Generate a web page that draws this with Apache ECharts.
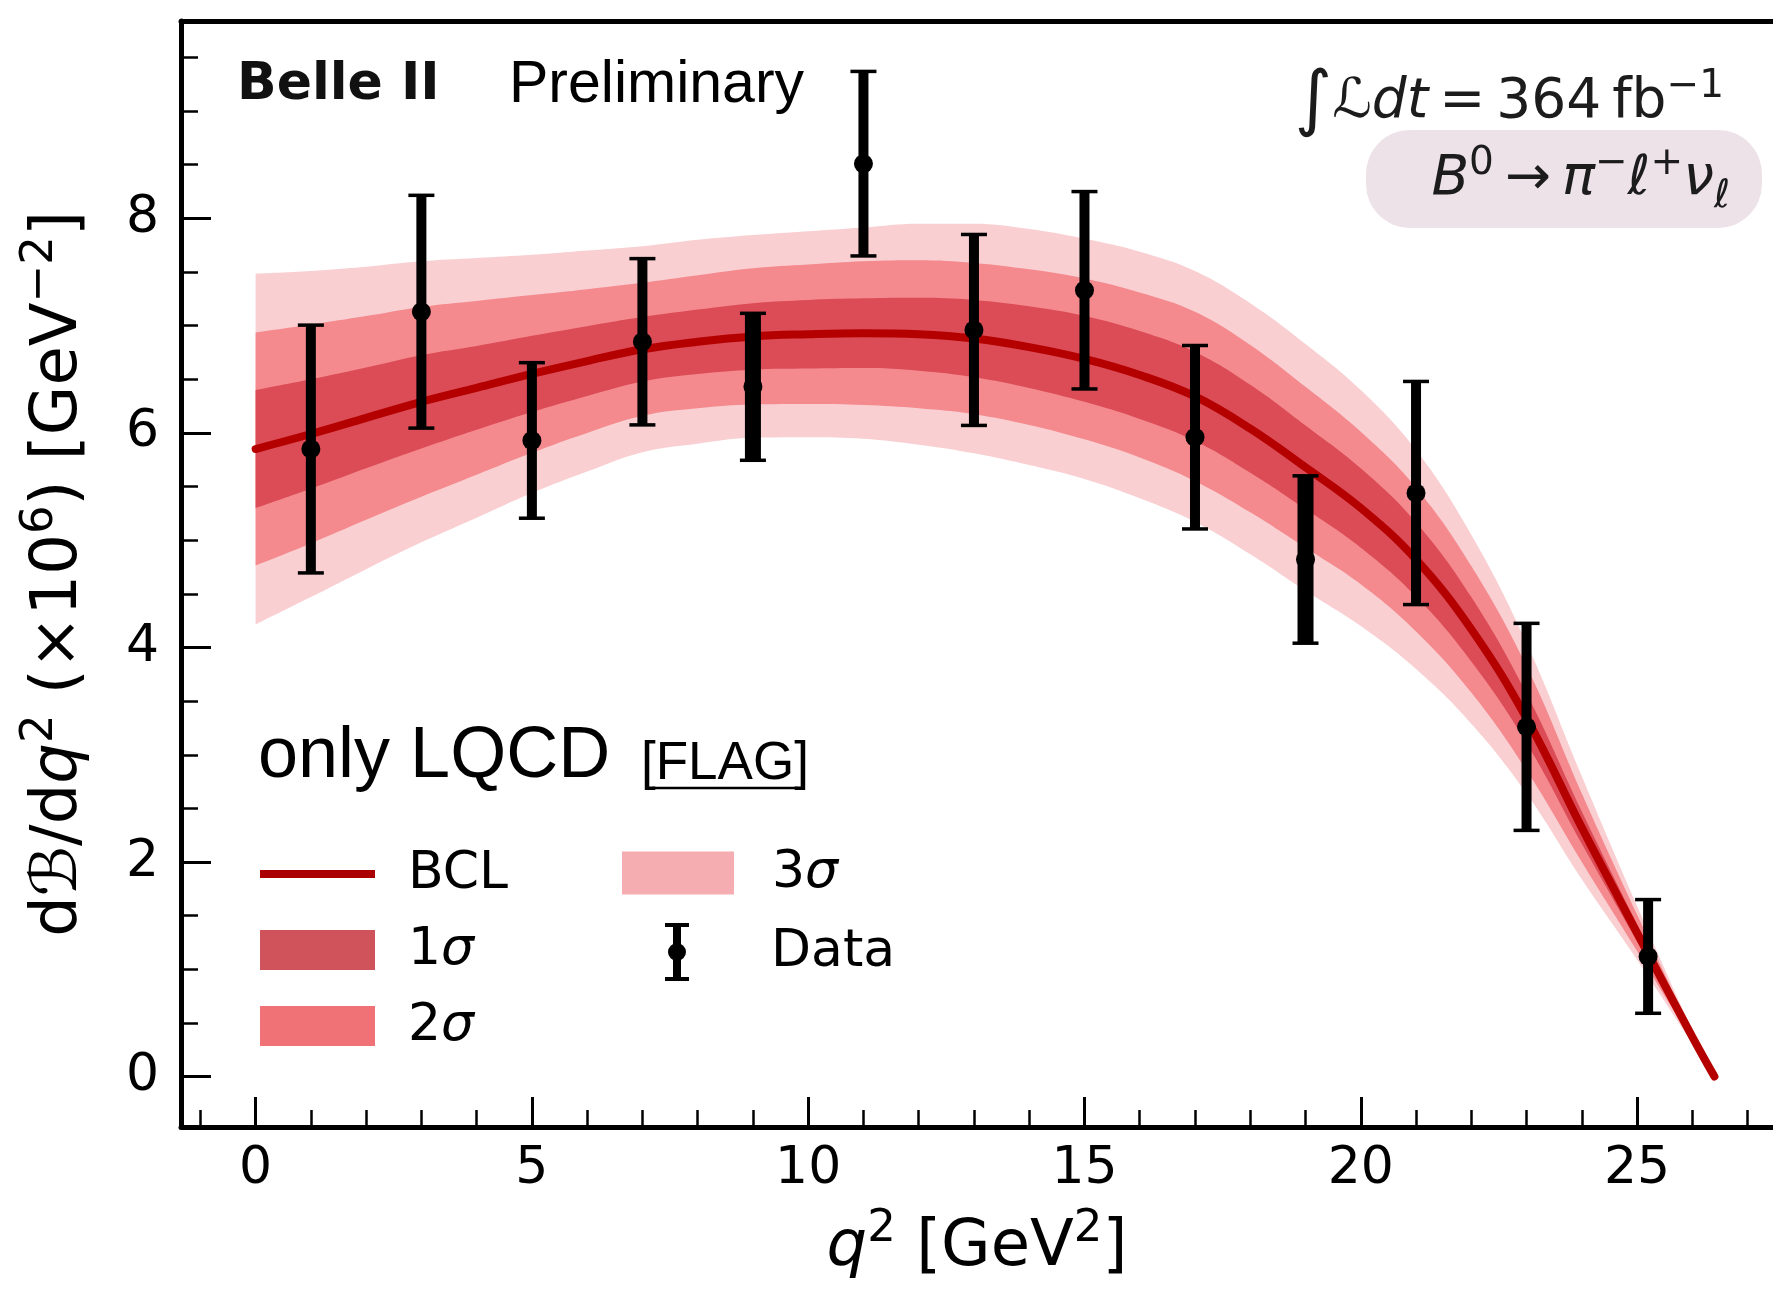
<!DOCTYPE html>
<html>
<head>
<meta charset="utf-8">
<title>dB/dq2 for B0 -> pi- l+ nu</title>
<script src="https://cdn.jsdelivr.net/npm/echarts@6.0.0/dist/echarts.min.js"></script>
<style>
  html, body { margin: 0; padding: 0; background: #ffffff; }
  #chart { width: 1773px; height: 1289px; }
</style>
</head>
<body>
<div id="chart"></div>
<script>
// BCL fit (only LQCD input), sampled along q^2 [GeV^2]
var fitQ2      = [0, 1, 2, 3, 4, 5, 6, 7, 8, 9, 10, 11, 12, 13, 14, 15, 16, 17, 18, 19, 20, 21, 22, 23, 24, 25, 26, 26.4];
var fitCentral = [5.85, 5.99, 6.14, 6.29, 6.42, 6.55, 6.67, 6.78, 6.85, 6.90, 6.92, 6.93, 6.92, 6.88, 6.80, 6.69, 6.54, 6.34, 6.04, 5.68, 5.30, 4.82, 4.17, 3.34, 2.32, 1.34, 0.37, 0];
// half widths of the 1, 2 and 3 sigma bands
var fitErr1 = [0.55, 0.51, 0.47, 0.435, 0.39, 0.355, 0.325, 0.30, 0.30, 0.31, 0.32, 0.325, 0.34, 0.36, 0.38, 0.40, 0.41, 0.415, 0.41, 0.39, 0.37, 0.345, 0.30, 0.23, 0.15, 0.08, 0.02, 0];
var fitErr2 = [1.085, 1.02, 0.95, 0.885, 0.81, 0.735, 0.67, 0.62, 0.62, 0.635, 0.65, 0.67, 0.69, 0.705, 0.725, 0.75, 0.77, 0.79, 0.78, 0.75, 0.71, 0.67, 0.59, 0.485, 0.32, 0.17, 0.04, 0];
var fitErr3 = [1.635, 1.52, 1.41, 1.31, 1.21, 1.11, 1.03, 0.96, 0.95, 0.945, 0.96, 0.985, 1.03, 1.07, 1.10, 1.12, 1.15, 1.17, 1.17, 1.15, 1.10, 1.02, 0.88, 0.70, 0.48, 0.25, 0.06, 0];

// measured spectrum, symmetric errors
var dataQ2  = [1, 3, 5, 7, 9, 11, 13, 15, 17, 19, 21, 23, 25.2];
var dataVal = [5.85, 7.13, 5.93, 6.85, 6.43, 8.51, 6.96, 7.33, 5.96, 4.82, 5.44, 3.26, 1.12];
var dataErr = [1.155, 1.085, 0.725, 0.775, 0.685, 0.86, 0.89, 0.92, 0.855, 0.78, 1.04, 0.965, 0.53];

// ticks
var xMajor = [0, 5, 10, 15, 20, 25];
var xMinor = [-1, 1, 2, 3, 4, 6, 7, 8, 9, 11, 12, 13, 14, 16, 17, 18, 19, 21, 22, 23, 24, 26, 27];
var yMajor = [0, 2, 4, 6, 8];
var yMinor = [0.5, 1, 1.5, 2.5, 3, 3.5, 4.5, 5, 5.5, 6.5, 7, 7.5, 8.5, 9, 9.5];

var chart = echarts.init(document.getElementById('chart'));

var FONT = 'DejaVu Sans';
var SANS = 'Liberation Sans';
var band1 = '#db4c57', band2 = '#f48a8e', band3 = '#f9cfd2';
var thickBins = [9, 19]; // these two bars look doubled-up in the original
var X_MIN = -1.35, X_MAX = 27.46, Y_MIN = -0.47, Y_MAX = 9.84;

function pairs(xs, ys) {
  return xs.map(function (x, i) { return [x, ys[i]]; });
}

// one band = invisible lower edge + stacked width on top of it.
// the value column comes first so ECharts stacks along y, not along q^2
function band(name, err, color, stackId) {
  var common = {
    type: 'line', stack: stackId, stackStrategy: 'all',
    smooth: 0.4, symbol: 'none', silent: true, z: 1,
    encode: { x: 1, y: 0 },
    lineStyle: { width: 0, opacity: 0 }
  };
  return [
    Object.assign({}, common, {
      name: stackId + ' base',
      data: fitQ2.map(function (q, i) { return [+(fitCentral[i] - err[i]).toFixed(3), q]; })
    }),
    Object.assign({}, common, {
      name: name,
      data: fitQ2.map(function (q, i) { return [+(2 * err[i]).toFixed(3), q]; }),
      areaStyle: { color: color, opacity: 1 }, itemStyle: { color: color }
    })
  ];
}

function mathRich(size, color) {
  var sup = Math.round(size * 0.7);
  var lh = Math.round(size * 1.3);
  return {
    n: { fontFamily: FONT, fontSize: size, lineHeight: lh, color: color, fill: color },
    i: { fontFamily: FONT, fontStyle: 'italic', fontSize: size, lineHeight: lh, color: color, fill: color },
    big: { fontFamily: FONT, fontSize: Math.round(size * 1.3), lineHeight: lh, color: color, fill: color },
    s: { fontFamily: FONT, fontSize: sup, lineHeight: sup, verticalAlign: 'top', color: color, fill: color },
    b: { fontFamily: FONT, fontStyle: 'italic', fontSize: sup, lineHeight: sup, verticalAlign: 'bottom', color: color, fill: color }
  };
}

var series = [].concat(
  band('3σ', fitErr3, band3, 's3'),
  band('2σ', fitErr2, band2, 's2'),
  band('1σ', fitErr1, band1, 's1'),
  [{
    type: 'line', name: 'BCL', data: pairs(fitQ2, fitCentral),
    smooth: 0.4, symbol: 'none', silent: true, z: 3,
    lineStyle: { color: '#b50000', width: 8, cap: 'round' },
    itemStyle: { color: '#b50000' }
  }, {
    type: 'custom', name: 'Data', z: 5, silent: true,
    data: dataQ2.map(function (q, i) { return [q, dataVal[i], dataErr[i]]; }),
    encode: { x: 0, y: 1 },
    itemStyle: { color: '#000' },
    renderItem: function (params, api) {
      var q = api.value(0), v = api.value(1), e = api.value(2);
      var top = api.coord([q, v + e]);
      var bot = api.coord([q, v - e]);
      var mid = api.coord([q, v]);
      var w = thickBins.indexOf(q) >= 0 ? 16 : 10;
      var capHalf = 13;
      return {
        type: 'group',
        children: [
          { type: 'line', shape: { x1: top[0], y1: top[1], x2: bot[0], y2: bot[1] }, style: { stroke: '#000', lineWidth: w } },
          { type: 'line', shape: { x1: top[0] - capHalf, y1: top[1], x2: top[0] + capHalf, y2: top[1] }, style: { stroke: '#000', lineWidth: 3.5 } },
          { type: 'line', shape: { x1: bot[0] - capHalf, y1: bot[1], x2: bot[0] + capHalf, y2: bot[1] }, style: { stroke: '#000', lineWidth: 3.5 } },
          { type: 'circle', shape: { cx: mid[0], cy: mid[1], r: 9.5 }, style: { fill: '#000' } }
        ]
      };
    }
  }]
);

function legendText(pad) {
  return {
    fontFamily: FONT, fontSize: 52, color: '#000', lineHeight: 40, padding: [0, 0, 0, pad],
    rich: { i: { fontFamily: FONT, fontStyle: 'italic', fontSize: 52, lineHeight: 40, color: '#000' } }
  };
}
function sigmaFmt(name) { return name.replace('σ', '{i|σ}'); }
var lineIcon = 'path://M0,0H115V8H0Z';
var dataIcon = 'path://M0,0H24V4H0Z M8,0H16V58H8Z M0,54H24V58H0Z M12,20A9,9 0 1 1 11.99,20Z';

var axisOff = { show: false, onZero: false };

var option = {
  animation: false,
  backgroundColor: '#ffffff',
  grid: { left: 181, top: 21, right: 0, bottom: 162 },
  xAxis: [{
    type: 'value', min: X_MIN, max: X_MAX, position: 'bottom',
    axisLine: { show: true, onZero: false, lineStyle: { color: '#000', width: 5 } },
    splitLine: { show: false },
    axisTick: { inside: true, length: 30, lineStyle: { color: '#000', width: 3 }, customValues: xMajor },
    axisLabel: { customValues: xMajor, fontFamily: FONT, fontSize: 52, color: '#000', margin: 16 },
    name: '{i|q}{s|2}{n| [GeV}{s|2}{n|]}',
    nameLocation: 'middle', nameGap: 80,
    nameTextStyle: { rich: mathRich(64, '#000') }
  }, {
    type: 'value', min: X_MIN, max: X_MAX, position: 'bottom',
    axisLine: axisOff, splitLine: { show: false }, axisLabel: { show: false },
    axisTick: { inside: true, length: 17, lineStyle: { color: '#000', width: 2.5 }, customValues: xMinor }
  }, {
    type: 'value', min: X_MIN, max: X_MAX, position: 'top',
    axisLine: { show: true, onZero: false, lineStyle: { color: '#000', width: 5 } },
    splitLine: { show: false }, axisLabel: { show: false }, axisTick: { show: false }
  }],
  yAxis: [{
    type: 'value', min: Y_MIN, max: Y_MAX, position: 'left',
    axisLine: { show: true, onZero: false, lineStyle: { color: '#000', width: 5 } },
    splitLine: { show: false },
    axisTick: { inside: true, length: 30, lineStyle: { color: '#000', width: 3 }, customValues: yMajor },
    axisLabel: { customValues: yMajor, fontFamily: FONT, fontSize: 52, color: '#000', margin: 22 },
    name: '{n|d}{n|ℬ}{n|/d}{i|q}{s|2}{n| (×10}{s|6}{n|) [GeV}{s|−2}{n|]}',
    nameLocation: 'middle', nameGap: 80, nameRotate: 90,
    nameTextStyle: { rich: mathRich(64, '#000') }
  }, {
    type: 'value', min: Y_MIN, max: Y_MAX, position: 'left',
    axisLine: axisOff, splitLine: { show: false }, axisLabel: { show: false },
    axisTick: { inside: true, length: 17, lineStyle: { color: '#000', width: 2.5 }, customValues: yMinor }
  }],
  legend: [{
    left: 260, top: 848, orient: 'vertical', padding: 0,
    itemWidth: 115, itemHeight: 40, itemGap: 24, selectedMode: false,
    textStyle: legendText(28), formatter: sigmaFmt,
    data: [
      { name: 'BCL', icon: lineIcon, itemStyle: { color: '#aa0000', borderWidth: 0 } },
      { name: '1σ', icon: 'rect', itemStyle: { color: '#d0525a', borderWidth: 0 } },
      { name: '2σ', icon: 'rect', itemStyle: { color: '#f07276', borderWidth: 0 } }
    ]
  }, {
    left: 622, top: 847, orient: 'vertical', padding: 0,
    itemWidth: 112, itemHeight: 43, selectedMode: false,
    textStyle: legendText(33), formatter: sigmaFmt,
    data: [{ name: '3σ', icon: 'rect', itemStyle: { color: '#f6adb1', borderWidth: 0 } }]
  }, {
    left: 665, top: 923, orient: 'vertical', padding: 0,
    itemWidth: 112, itemHeight: 58, selectedMode: false,
    textStyle: legendText(33),
    data: [{ name: 'Data', icon: dataIcon, itemStyle: { color: '#000', borderWidth: 0 } }]
  }],
  graphic: [
    { type: 'text', z: 50, silent: true, style: { x: 237, y: 85, text: 'Belle II', fontFamily: FONT, fontWeight: 'bold', fontSize: 52, fill: '#111', align: 'left', verticalAlign: 'middle' } },
    { type: 'text', z: 50, silent: true, style: { x: 509, y: 86, text: 'Preliminary', fontFamily: SANS, fontSize: 59, fill: '#000', align: 'left', verticalAlign: 'middle' } },
    { type: 'text', z: 50, silent: true, style: { x: 258, y: 757, text: 'only LQCD', fontFamily: SANS, fontSize: 72, fill: '#000', align: 'left', verticalAlign: 'middle' } },
    { type: 'text', z: 50, silent: true, style: { x: 641, y: 764, text: '[FLAG]', fontFamily: SANS, fontSize: 53, fill: '#000', align: 'left', verticalAlign: 'middle' } },
    { type: 'line', z: 50, silent: true, shape: { x1: 652, y1: 788, x2: 798, y2: 788 }, style: { stroke: '#000', lineWidth: 2.5 } },
    { type: 'text', z: 50, silent: true, style: {
      x: 1724, y: 103, align: 'right', verticalAlign: 'middle',
      text: '{big|∫}{n|ℒ}{i|dt}{n|\u2009=\u2009364\u2009fb}{s|−1}', rich: mathRich(55, '#1c1c1c')
    } },
    { type: 'rect', z: 49, silent: true, shape: { x: 1366, y: 130, width: 396, height: 98, r: 44 }, style: { fill: '#ede2e8' } },
    { type: 'text', z: 50, silent: true, style: {
      x: 1730, y: 180, align: 'right', verticalAlign: 'middle',
      text: '{i|B}{s|0}{n|\u2009→\u2009}{i|π}{s|−}{i|ℓ}{s|+}{i|ν}{b|ℓ}', rich: mathRich(55, '#1c1c1c')
    } }
  ],
  series: series
};

chart.setOption(option);
window.addEventListener('resize', function () { chart.resize(); });
</script>
</body>
</html>
